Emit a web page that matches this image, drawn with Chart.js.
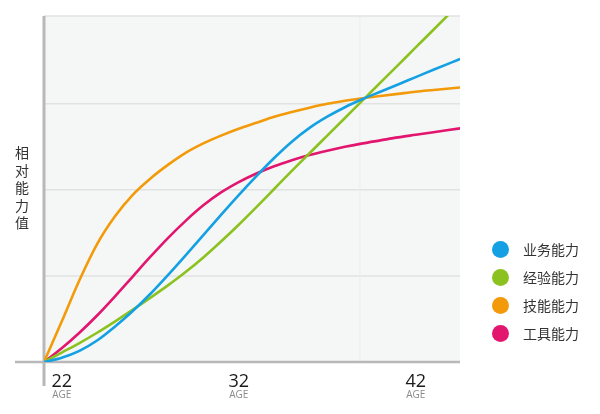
<!DOCTYPE html>
<html>
<head>
<meta charset="utf-8">
<script src="https://cdn.jsdelivr.net/npm/chart.js@4"></script>
<style>
  html, body { margin: 0; padding: 0; background: #fff; }
  .wrap { position: relative; width: 600px; height: 414px; font-family: "Noto Sans CJK SC", "Noto Sans", sans-serif; }
  canvas { position: absolute; left: 0; top: 0; }
  .ytitle { position: absolute; left: 14px; top: 144px; width: 16px; font-size: 14px; line-height: 17.5px; color: #333; text-align: center; }
  .legend { position: absolute; left: 492px; top: 235px; }
  .legend .item { height: 28px; display: flex; align-items: center; font-size: 14px; color: #333; }
  .legend .dot { width: 17px; height: 17px; border-radius: 50%; margin-right: 14px; }
</style>
</head>
<body>
<div class="wrap">
  <canvas id="chart" width="600" height="414"></canvas>
  <div class="ytitle">相<br>对<br>能<br>力<br>值</div>
  <div class="legend" id="legend"></div>
</div>
<script>
// 年龄 (x) 与各项能力值 (y)
const ages    = [21, 22, 23, 24, 25, 26, 27, 28, 29, 30, 31, 32, 33, 34, 35, 36, 37, 38, 39, 40, 41, 42, 43, 44.5];
const yewu    = [0, 0.05, 0.13, 0.25, 0.41, 0.59, 0.79, 1.01, 1.24, 1.475, 1.71, 1.94, 2.16, 2.37, 2.56, 2.72, 2.85, 2.96, 3.055, 3.14, 3.225, 3.31, 3.395, 3.52];
const jingyan = [0, 0.11, 0.22, 0.34, 0.47, 0.605, 0.745, 0.89, 1.045, 1.215, 1.40, 1.595, 1.80, 2.01, 2.22, 2.425, 2.63, 2.835, 3.04, 3.245, 3.45, 3.655, 3.86, 4.17];
const jineng  = [0, 0.47, 0.95, 1.37, 1.69, 1.94, 2.13, 2.29, 2.43, 2.54, 2.63, 2.71, 2.78, 2.85, 2.905, 2.955, 3.0, 3.035, 3.065, 3.09, 3.115, 3.14, 3.16, 3.19];
const gongju  = [0, 0.16, 0.34, 0.54, 0.76, 0.99, 1.22, 1.44, 1.64, 1.82, 1.97, 2.09, 2.19, 2.275, 2.345, 2.405, 2.455, 2.50, 2.54, 2.575, 2.61, 2.64, 2.67, 2.715];

const seriesNames = ['业务能力', '经验能力', '技能能力', '工具能力'];
const seriesColors = ['#14a0e3', '#8cc21f', '#f39a0b', '#e2156f'];
const xTickLabels = [22, 32, 42];
const xGridAt = [38.85];
const yGridAt = [1, 2, 3];

const allSeries = [yewu, jingyan, jineng, gongju];

const chartDecor = {
    id: 'chartDecor',
    beforeDatasetsDraw(chart) {
        const { ctx, chartArea: a, scales: { x, y } } = chart;
        ctx.save();
        ctx.fillStyle = '#f5f7f6';
        ctx.fillRect(a.left, a.top, a.right - a.left, a.bottom - a.top);
        ctx.strokeStyle = '#e1e3e2'; ctx.lineWidth = 1.5;
        ctx.beginPath(); ctx.moveTo(a.left, a.top); ctx.lineTo(a.right, a.top); ctx.stroke();
        yGridAt.forEach(v => { let py = y.getPixelForValue(v); ctx.beginPath(); ctx.moveTo(a.left, py); ctx.lineTo(a.right, py); ctx.stroke(); });
        ctx.strokeStyle = '#ebedec'; ctx.lineWidth = 1;
        xGridAt.forEach(v => { let px = x.getPixelForValue(v); ctx.beginPath(); ctx.moveTo(px, a.top); ctx.lineTo(px, a.bottom); ctx.stroke(); });
        // axes, both run past the plot corner
        ctx.strokeStyle = '#b8b8b8';
        ctx.lineWidth = 2.5;
        ctx.beginPath(); ctx.moveTo(15, a.bottom); ctx.lineTo(a.right, a.bottom); ctx.stroke();
        ctx.lineWidth = 3;
        ctx.beginPath(); ctx.moveTo(a.left, a.top); ctx.lineTo(a.left, 386); ctx.stroke();
        ctx.restore();
    },
    afterDraw(chart) {
        const { ctx, scales: { x } } = chart;
        ctx.save();
        ctx.textAlign = 'center'; ctx.textBaseline = 'alphabetic';
        xTickLabels.forEach(v => {
            let px = x.getPixelForValue(v);
            ctx.fillStyle = '#1a1a1a'; ctx.font = '18px "Open Sans", "Noto Sans", sans-serif';
            ctx.fillText(String(v), px, 387);
            ctx.fillStyle = '#8a8a8a'; ctx.font = '10px "Open Sans", "Noto Sans", sans-serif';
            ctx.fillText('AGE', px, 398);
        });
        ctx.restore();
    }
};

new Chart(document.getElementById('chart'), {
    type: 'line',
    data: {
        datasets: allSeries.map((s, i) => ({
            label: seriesNames[i],
            data: ages.map((a, k) => ({ x: a, y: s[k] })),
            borderColor: seriesColors[i], backgroundColor: seriesColors[i],
            borderWidth: 2.6, pointRadius: 0, cubicInterpolationMode: 'monotone', clip: 0
        }))
    },
    options: {
        responsive: false, animation: false, events: [],
        layout: { padding: { left: 44, right: 140, top: 16, bottom: 52 } },
        plugins: { legend: { display: false }, tooltip: { enabled: false } },
        scales: {
            x: { type: 'linear', min: 21, max: 44.5, grid: { display: false }, border: { display: false }, ticks: { display: false }, afterFit: s => { s.height = 0; } },
            y: { min: 0, max: 4.02, grid: { display: false }, border: { display: false }, ticks: { display: false }, afterFit: s => { s.width = 0; } }
        }
    },
    plugins: [chartDecor]
});

document.getElementById('legend').innerHTML = seriesNames.map((n, i) =>
    `<div class="item"><span class="dot" style="background:${seriesColors[i]}"></span>${n}</div>`).join('');
</script>
</body>
</html>
